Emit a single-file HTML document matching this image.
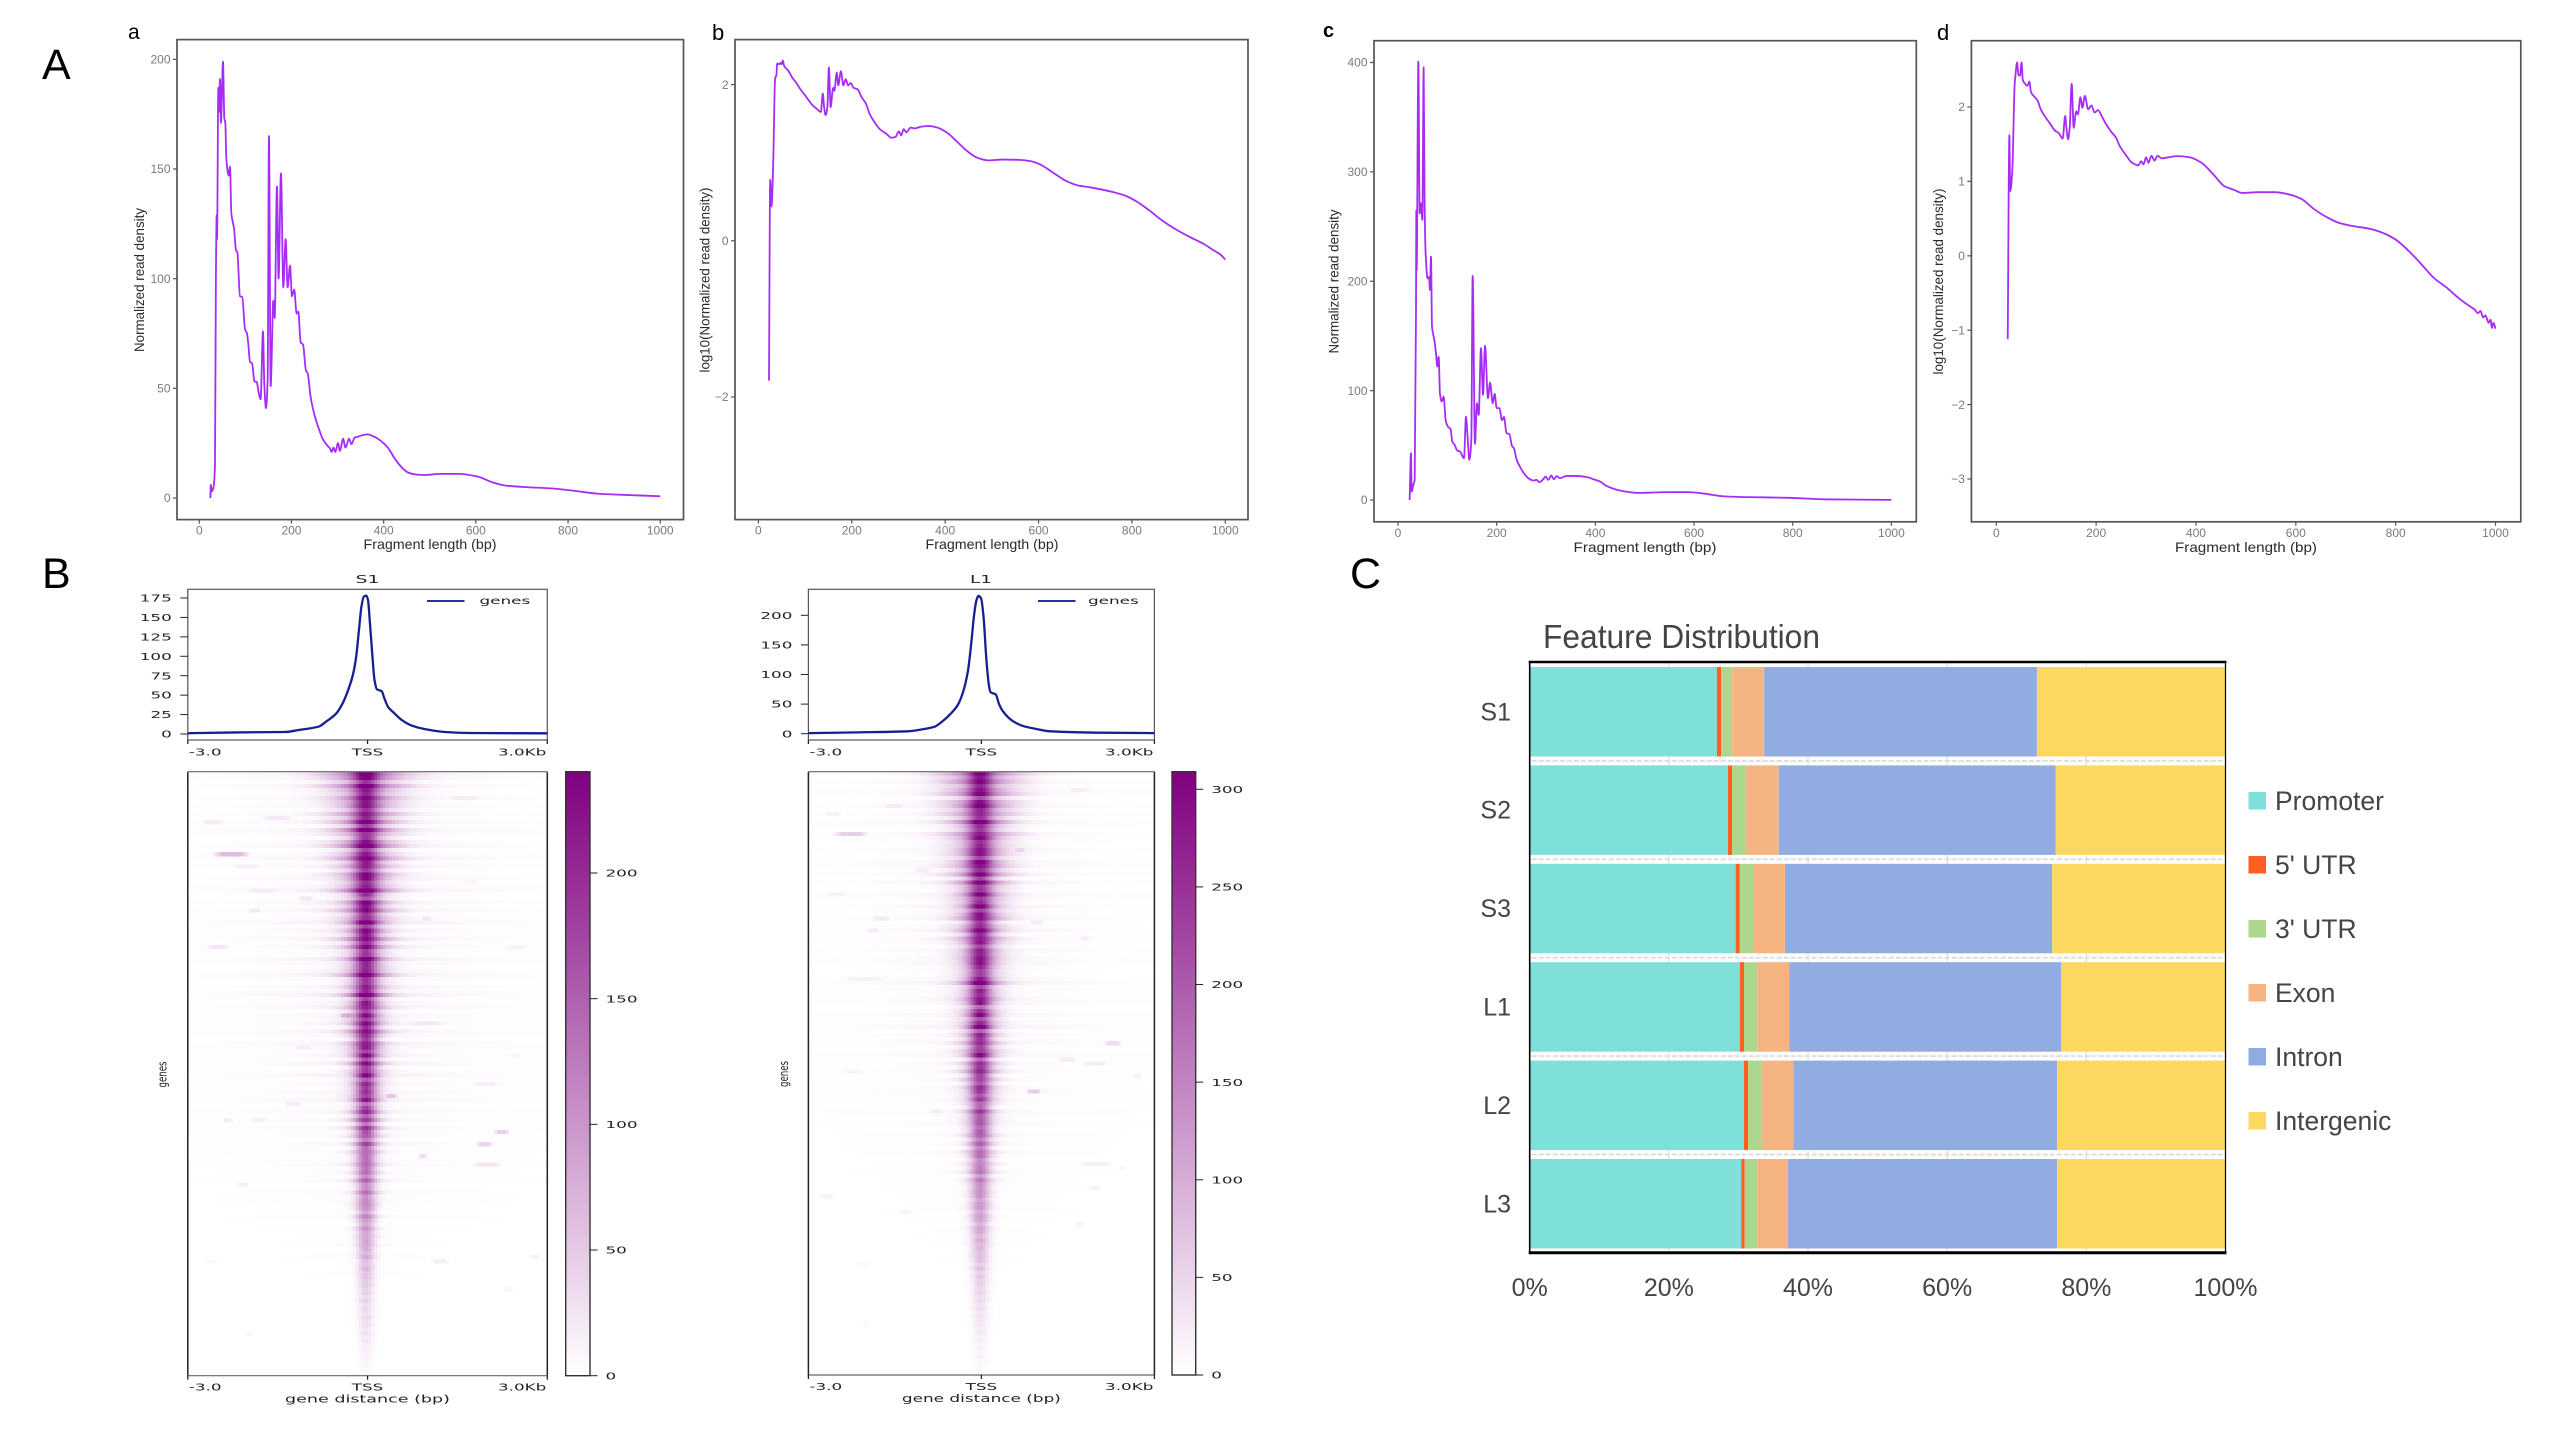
<!DOCTYPE html>
<html lang="en">
<head>
<meta charset="utf-8">
<title>Fragment length, TSS enrichment and feature distribution</title>
<style>
html,body{margin:0;padding:0;background:#fff;width:2560px;height:1440px;overflow:hidden}
svg{display:block}
text{font-family:"Liberation Sans",sans-serif}
.dj{font-family:"DejaVu Sans",sans-serif;fill:#222}
.axt{fill:#2a2a2a;font-size:14px}
.plabel{fill:#000}
.lg{font-size:26.500px;fill:#444}
</style>
</head>
<body>
<svg id="fig" xmlns="http://www.w3.org/2000/svg" width="2560" height="1440" viewBox="0 0 2560 1440">
<defs>
<linearGradient id="cmap" x1="0" y1="1" x2="0" y2="0"><stop offset="0" stop-color="#ffffff"/><stop offset="1" stop-color="#800080"/></linearGradient>
</defs>
<rect x="0" y="0" width="2560" height="1440" fill="#fff"/>

<text class="plabel" x="42" y="79" font-size="43">A</text>
<text class="plabel" x="42" y="588" font-size="43">B</text>
<text class="plabel" x="1350" y="588" font-size="43">C</text>
<text class="plabel" x="128" y="39" font-size="21">a</text>
<text class="plabel" x="712" y="40" font-size="22">b</text>
<text class="plabel" x="1323" y="37" font-size="20" font-weight="bold">c</text>
<text class="plabel" x="1937" y="40" font-size="22">d</text>

<g id="panel-a"></g>
<g id="panel-b"></g>
<g id="panel-c"></g>
<g id="panel-d"></g>

<text class="axt" x="430" y="549" text-anchor="middle" textLength="133" lengthAdjust="spacingAndGlyphs">Fragment length (bp)</text>
<text class="axt" x="992" y="549" text-anchor="middle" textLength="133" lengthAdjust="spacingAndGlyphs">Fragment length (bp)</text>
<text class="axt" x="1645" y="552" text-anchor="middle" textLength="143" lengthAdjust="spacingAndGlyphs">Fragment length (bp)</text>
<text class="axt" x="2246" y="552" text-anchor="middle" textLength="142" lengthAdjust="spacingAndGlyphs">Fragment length (bp)</text>
<text class="axt" transform="translate(144,280) rotate(-90)" text-anchor="middle" textLength="144" lengthAdjust="spacingAndGlyphs">Normalized read density</text>
<text class="axt" transform="translate(709.500,280) rotate(-90)" text-anchor="middle" textLength="185" lengthAdjust="spacingAndGlyphs">log10(Normalized read density)</text>
<text class="axt" transform="translate(1338.500,281.500) rotate(-90)" text-anchor="middle" textLength="144" lengthAdjust="spacingAndGlyphs">Normalized read density</text>
<text class="axt" transform="translate(1943,281.500) rotate(-90)" text-anchor="middle" textLength="186" lengthAdjust="spacingAndGlyphs">log10(Normalized read density)</text>

<g id="heat-s1"></g>
<g id="heat-l1"></g>
<text class="dj" x="367.500" y="583" font-size="11" text-anchor="middle" textLength="24" lengthAdjust="spacingAndGlyphs">S1</text>
<text class="dj" x="981" y="583" font-size="11" text-anchor="middle" textLength="22" lengthAdjust="spacingAndGlyphs">L1</text>
<text class="dj" x="367.500" y="1402.500" font-size="11" text-anchor="middle" textLength="165" lengthAdjust="spacingAndGlyphs">gene distance (bp)</text>
<text class="dj" x="981.400" y="1402" font-size="11" text-anchor="middle" textLength="159" lengthAdjust="spacingAndGlyphs">gene distance (bp)</text>
<text class="dj" transform="translate(166.500,1074.500) rotate(-90)" font-size="12" text-anchor="middle" textLength="26" lengthAdjust="spacingAndGlyphs">genes</text>
<text class="dj" transform="translate(788,1074) rotate(-90)" font-size="12" text-anchor="middle" textLength="26" lengthAdjust="spacingAndGlyphs">genes</text>

<text x="1543" y="648" font-size="33" fill="#444" textLength="277" lengthAdjust="spacingAndGlyphs">Feature Distribution</text>
<g id="bars"></g>

<g>
<rect x="2248.500" y="792" width="17.500" height="17.500" fill="#7FDFD9"/>
<text class="lg" x="2275" y="810">Promoter</text>
<rect x="2248.500" y="856" width="17.500" height="17.500" fill="#FF5F22"/>
<text class="lg" x="2275" y="874">5' UTR</text>
<rect x="2248.500" y="920" width="17.500" height="17.500" fill="#ADD68F"/>
<text class="lg" x="2275" y="938">3' UTR</text>
<rect x="2248.500" y="984" width="17.500" height="17.500" fill="#F5B482"/>
<text class="lg" x="2275" y="1002">Exon</text>
<rect x="2248.500" y="1048" width="17.500" height="17.500" fill="#91ACE0"/>
<text class="lg" x="2275" y="1066">Intron</text>
<rect x="2248.500" y="1112" width="17.500" height="17.500" fill="#FDD860"/>
<text class="lg" x="2275" y="1130">Intergenic</text>
</g>
</svg>

<script>
// ---------- Fragment-length data ----------
const fragmentXTicks = [0, 200, 400, 600, 800, 1000];
const aYTicks = [0, 50, 100, 150, 200];
const bYTicks = [-2, 0, 2];
const cYTicks = [0, 100, 200, 300, 400];
const dYTicks = [-3, -2, -1, 0, 1, 2];

const aLengths = [24,25,27,31,34,36,37.7,38.5,41.3,42.7,
44.9,47,51.4,54.3,56.5,58.6,63.7,66.6,69.5,72.4,
75.3,79.6,82.5,88.3,93.3,99.1,103.5,106.4,110,114.3,
120,124.4,128.8,133,138.2,141,144.7,148.3,151.2,154.8,
160.6,163.5,168.5,172,177.2,182.3,187.3,191.7,196.8,201,
206,211.2,214.8,219.9,225,231.5,235,241.6,251,260.4,
267.6,279,283,287,291,295,301,305,312,317,
325,330,337,345,355,365,379,394,409,424,
439,454,470,489,524,564,603,638,663,713,
763,813,863,912,1000];
const aDensity = [0,6,3,5,15,100,129,118,187,176,
191,171,199,173,171,155,147,151,130,126,
123,113,112,92,91.6,77,75,70,62,61.5,
53,53,48,45,76,52,41,54,165,51,
90,82,142,100,148,96,118,96,106,92,
95,84,85,71,70,58,57,46,37,31,
27,23.6,22.8,21,23,21,25,21.5,27,23,
27,24.5,27.5,28,28.7,29,28,26,23,18,
14,11.5,10.7,10.5,11,11,9.8,7,5.7,4.9,
4.4,3.3,2,1.5,0.8];

const bLengths = [22.7,25.3,28,31.5,35.8,38.5,40.2,44.6,47.2,49.8,
52.4,55,63.8,72.6,81.3,90,99,107.5,116,125,
133.7,138,140.7,144,147.7,151,154.7,160,162.6,167.8,
171,176.6,182,187,192,197.6,203.7,212.4,221,230,
238.6,247.4,260,274,285,293.7,300.7,306,311,317,
326,334.8,348,365,383,405,427,449,470.3,492,
522.7,557.7,584,605.8,632,658,684,715,758.7,785,
811,837,863.6,894,924.8,955.4,973,990.4,1000];
const bDensity = [-1.79,0.78,0.44,0.94,2.08,2.12,2.27,2.26,2.28,2.26,
2.31,2.24,2.18,2.09,2.02,1.94,1.87,1.80,1.735,1.69,
1.65,1.885,1.71,1.61,1.71,2.22,1.71,1.96,1.92,2.155,
1.99,2.17,1.99,2.07,1.99,2.02,1.96,1.94,1.84,1.76,
1.62,1.53,1.43,1.37,1.32,1.33,1.40,1.35,1.43,1.39,
1.45,1.44,1.46,1.47,1.45,1.38,1.26,1.14,1.06,1.03,
1.04,1.036,1.018,0.97,0.87,0.77,0.71,0.68,0.625,0.58,
0.50,0.39,0.265,0.146,0.046,-0.046,-0.114,-0.18,-0.24];

const cLengths = [23.6,26.3,27.7,31,33.8,36.5,37.1,37.8,41.2,43.9,
46.6,49.3,52,54,56,60,62.8,64.8,66.9,68.9,
73.6,77,79.7,82.4,85,88.5,92.5,96.6,101.3,106.7,
110,114.8,120,125.6,133.7,137.8,141,144.6,148.6,151.3,
156,160,163.5,168.2,172.3,176.3,182.4,186.5,191.9,196,
200,205.4,210.8,214.8,220,225.6,231,235,240.5,247,
255,264,274,281,286.4,294.5,299,304.7,310.7,316,
321.6,328,342,362,382,396,409.4,421.8,455,488,
546,587,620,662,711,794,860,1000];
const cDensity = [0,42.8,7.7,13.8,18.4,177,265,210,400.8,262,
271.3,256,395.6,268,225.6,202.7,204,192,222.5,158.6,
146.4,134,122,131,97.6,90,94.6,73,67,64.7,
53.4,50.4,45.2,44.3,38.2,76.3,58,36.7,55,204.9,
51.3,88.5,77.8,138.8,96,141,93,107.4,88.5,97,
84,84,73,76,61,60.4,49.5,47.3,36.7,30.6,
24.5,20,17.8,18.4,16.3,19,21.4,18.4,22.4,19,
21.8,20,22,22,21,19,17,13,8.2,6.5,
7.2,7.2,5.9,3.3,2.6,2,0.65,0.1];

const dLengths = [22.9,26.2,27.8,31.9,36.8,38.4,41.7,44.2,47.4,50.7,
53.1,58,62,66.2,69.5,76,82.6,89,94.8,102,
110.4,117,125,133,138,140.6,144,147,151,155,
160,163.5,168.4,172.5,177.4,184,190.5,197,203.6,211,
219,231,239.6,247.8,260,272,284.5,290,295,300,
305,310.7,317,323,331,346,362,387,411,436,
456,476.7,493,526,558.5,583,611.6,636,664.7,689,
713.8,746.5,771,799.7,828,853,877,902,926.4,951,
958,965,970,975,980,986,990,993,996,1000];
const dDensity = [-1.12,1.62,0.87,1.13,2.31,2.43,2.6,2.43,2.42,2.6,
2.36,2.31,2.285,2.34,2.2,2.14,2.09,1.97,1.9,1.83,
1.75,1.685,1.65,1.575,1.88,1.71,1.565,1.72,2.31,1.72,
1.94,1.9,2.13,1.99,2.15,1.97,2.02,1.925,1.96,1.88,
1.78,1.66,1.59,1.47,1.35,1.25,1.215,1.27,1.23,1.325,
1.25,1.345,1.28,1.345,1.31,1.325,1.34,1.325,1.25,1.085,
0.94,0.885,0.845,0.855,0.855,0.83,0.763,0.63,0.51,0.437,
0.40,0.365,0.317,0.22,0.053,-0.125,-0.30,-0.427,-0.57,-0.69,
-0.72,-0.77,-0.74,-0.83,-0.8,-0.9,-0.86,-0.97,-0.9,-0.98];

// ---------- TSS profile and heatmap data ----------
const profileXLabels = ['-3.0', 'TSS', '3.0Kb'];
const s1ProfileTicks = [0, 25, 50, 75, 100, 125, 150, 175];
const l1ProfileTicks = [0, 50, 100, 150, 200];
const s1ColorTicks = [0, 50, 100, 150, 200];
const l1ColorTicks = [0, 50, 100, 150, 200, 250, 300];

const s1Kb = [-3,-2.19,-1.37,-1.16,-0.82,-0.69,-0.52,-0.416,-0.313,-0.245,-0.19,-0.143,-0.102,-0.06,-0.02,0.007,0.04,0.082,0.116,0.157,0.238,0.28,0.347,0.436,0.572,0.743,0.947,1.29,1.7,3];
const s1Signal = [1,2,2.6,5,9.4,16,26.6,39.5,58.8,76,99.5,134,164,177,178,172.5,142.5,99.5,69.5,57.5,55,46,34.3,27.5,18,10.7,6.4,2.6,1.3,0.9];
const l1Kb = [-3,-2.14,-1.276,-1.03,-0.81,-0.687,-0.53,-0.41,-0.316,-0.235,-0.173,-0.13,-0.087,-0.05,-0.006,0.037,0.087,0.13,0.16,0.248,0.303,0.365,0.52,0.706,0.95,1.2,2,3];
const l1Signal = [1,2.3,4,7.3,11.8,20,34,48.5,71,105,155.5,197.7,225,232.7,228.7,197.7,124.5,82,70,66.5,51,39,23,13.5,8,4,1.7,1];

const s1RowPeak = [228,235,210,238,222,240,205,232,218,236,196,228,240,214,226,190,234,221,240,208,
230,216,238,199,225,240,212,231,204,236,222,193,229,238,211,224,200,235,217,227,
240,206,230,219,195,233,225,210,238,202,228,215,236,198,222,231,207,226,188,220,
229,203,218,232,196,214,226,190,221,208,230,186,212,224,198,216,181,209,225,192,
198,208,170,190,200,172,190,158,180,186,
165,150,174,158,142,168,150,134,160,144,128,150,134,120,144,126,112,132,118,104,126,110,98,114,102,
92,108,86,98,78,90,74,64,82,60,70,54,62,50,56,42,52,38,44,34,
44,34,38,28,33,24,28,20,22,16,18,12,12,8,5];
const s1RowSpread = [66,62,58,64,55,60,52,57,50,54,58,48,52,46,50,55,44,49,53,42,
47,51,40,46,44,50,38,45,42,48,37,44,41,36,46,39,43,35,42,38,
34,44,37,40,33,41,36,32,39,35,43,31,37,34,30,38,33,29,36,32,
28,35,31,27,34,30,26,33,29,37,28,25,32,27,30,24,31,26,29,23,
30,25,28,22,27,24,29,23,26,21,
28,22,25,20,27,23,21,26,20,24,19,25,21,18,23,20,18,22,19,17,21,18,16,20,17,
19,16,18,15,17,16,14,17,15,16,14,15,13,14,13,15,12,14,12,13,
12,13,11,12,11,12,10,11,10,11,10,10,9,9,8];
const s1RowWash = [9,7,3,8,5,2,9,4,6,1,8,3,7,2,9,5,1,6,8,2,
4,9,3,7,1,5,8,2,6,9,3,1,7,4,8,2,5,9,1,6,
3,8,2,7,4,1,9,5,2,6,8,3,1,7,4,9,2,5,8,1,
6,3,7,2,9,4,1,8,5,2,6,3,7,1,4,8,2,5,1,6,
3,7,1,4,6,2,5,1,7,3,
4,1,6,2,5,1,3,6,1,4,2,5,1,3,4,1,5,2,3,1,4,2,1,3,1,
3,1,4,1,2,3,1,2,1,3,1,2,1,2,1,1,2,1,1,2,
1,1,2,1,1,1,1,1,0,1,0,1,0,0,0];
const s1StreakRows = [20,12,23,11,29,31,34,43,36,6,27,43,60,80,86,86,82,89,92,95,97,102,77,62,121,120,139,128,121,68,70];
const s1StreakStart = [-2.6,-2.77,-2.25,-1.78,-2.05,-1.16,-2,-2.7,0.88,1.35,1.56,2.3,-0.48,0.3,-2.42,-1.95,-1.4,2.1,1.8,0.85,1.73,-2.19,1.73,0.7,1.05,2.7,-2.08,2.27,-2.76,-1.2,2.34];
const s1StreakEnd = [-1.95,-2.4,-1.78,-1.23,-1.5,-0.9,-1.78,-2.3,1.08,1.9,1.83,2.7,-0.25,0.5,-2.25,-1.68,-1.1,2.38,2.1,1,2.24,-1.98,2.2,1.3,1.35,2.89,-1.9,2.45,-2.5,-0.93,2.6];
const s1StreakValue = [60,16,14,18,14,22,18,20,18,12,10,10,40,40,16,14,16,42,36,30,22,14,14,14,16,14,7,8,6,14,7];

const l1RowPeak = [290,305,268,309,280,298,262,301,275,292,248,288,306,270,295,244,300,278,308,260,
296,272,304,252,285,309,266,293,256,302,279,240,290,307,264,284,250,299,274,288,
306,258,292,270,238,297,283,262,305,246,286,268,300,242,276,294,255,280,230,272,
288,250,268,290,238,262,278,232,270,254,284,226,258,274,240,262,220,254,276,232,
236,252,204,228,242,208,230,192,218,226,
198,180,208,188,170,200,178,158,190,170,152,178,158,140,168,148,130,154,136,120,146,126,112,130,118,
104,122,96,110,88,102,84,72,92,68,80,62,70,56,64,48,58,44,50,38,
46,36,40,30,34,25,28,20,22,16,18,12,12,8,5];
const l1RowSpread = [70,64,60,66,58,62,55,60,52,57,61,50,54,48,53,58,46,51,56,44,
49,54,42,48,46,52,40,47,44,50,39,46,43,38,48,41,45,37,44,40,
36,46,39,42,35,43,38,34,41,37,45,33,39,36,32,40,35,31,38,34,
30,37,33,29,36,32,28,35,31,39,30,27,34,29,32,26,33,28,31,25,
32,27,30,24,29,26,31,25,28,23,
30,24,27,22,29,25,23,28,22,26,21,27,23,20,25,22,20,24,21,19,23,20,18,22,19,
21,18,20,17,19,18,16,19,17,18,16,17,15,16,15,17,14,16,14,15,
14,15,13,14,13,14,12,13,12,13,12,12,11,11,10];
const l1RowWash = [8,4,9,2,6,7,1,5,9,3,7,2,8,4,1,9,6,3,2,8,
5,1,7,9,3,6,2,8,4,1,9,5,3,7,2,6,9,1,4,8,
2,7,5,1,9,3,6,8,2,4,1,7,9,3,5,2,8,6,1,4,
7,2,5,9,1,6,3,8,2,4,7,1,5,3,8,2,6,1,4,7,
2,5,3,1,6,4,2,7,1,3,
5,2,4,1,6,3,1,4,2,5,1,3,2,4,1,3,2,1,4,2,1,3,1,2,3,
1,2,3,1,2,1,3,1,2,1,1,3,1,2,1,2,1,1,2,1,
1,2,1,1,1,1,1,0,1,1,0,1,0,0,0];
const l1StreakRows = [15,10,8,24,30,36,39,51,4,19,37,41,67,71,72,75,79,74,84,97,98,103,105,109,112,122,137];
const l1StreakStart = [-2.58,-2.73,-1.7,-1.18,-2.7,-1.9,-1.99,-2.42,1.5,0.58,0.83,1.7,2.11,1.33,1.72,2.62,0.77,-2.4,-0.91,1.7,2.38,1.84,-2.86,-1.45,1.6,-2.17,-2.08];
const l1StreakEnd = [-1.96,-2.42,-1.34,-0.87,-2.33,-1.58,-1.77,-1.65,1.9,0.77,1.08,1.88,2.44,1.66,2.2,2.8,1.04,-2.05,-0.67,2.26,2.5,2.08,-2.53,-1.15,1.81,-1.93,-1.93];
const l1StreakValue = [55,14,18,18,14,18,20,14,18,30,26,20,42,26,20,18,55,14,18,20,14,14,14,12,14,10,8];

// ---------- Stacked bar data (percent of reads) ----------
const barSamples = ['S1', 'S2', 'S3', 'L1', 'L2', 'L3'];
const promoterPct = [26.9, 28.5, 29.6, 30.2, 30.8, 30.4];
const utr5Pct = [0.6, 0.6, 0.6, 0.6, 0.6, 0.5];
const utr3Pct = [1.6, 2.0, 1.9, 1.9, 2.0, 1.8];
const exonPct = [4.6, 4.7, 4.6, 4.6, 4.5, 4.4];
const intronPct = [39.2, 39.8, 38.4, 39.1, 37.9, 38.7];
const intergenicPct = [27.1, 24.4, 24.9, 23.6, 24.2, 24.2];
const barXTicks = [0, 20, 40, 60, 80, 100];

const NS = 'http://www.w3.org/2000/svg';
function make(tag, attrs, parent) {
  const el = document.createElementNS(NS, tag);
  for (const k in attrs) el.setAttribute(k, attrs[k]);
  parent.appendChild(el);
  return el;
}
function linearScale(v0, p0, v1, p1) {
  return function (v) { return p0 + (v - v0) * (p1 - p0) / (v1 - v0); };
}
// Monotone cubic through the given points: rounds long segments, keeps peaks exact.
function monotonePath(xsPx, ysPx) {
  const n = xsPx.length;
  const d = [];
  for (let i = 0; i < n - 1; i++) d.push((ysPx[i + 1] - ysPx[i]) / (xsPx[i + 1] - xsPx[i]));
  const m = [d[0]];
  for (let i = 1; i < n - 1; i++) m.push(d[i - 1] * d[i] <= 0 ? 0 : 2 * d[i - 1] * d[i] / (d[i - 1] + d[i]));
  m.push(d[n - 2]);
  let out = 'M' + xsPx[0].toFixed(2) + ' ' + ysPx[0].toFixed(2);
  for (let i = 0; i < n - 1; i++) {
    const h = (xsPx[i + 1] - xsPx[i]) / 3;
    out += 'C' + (xsPx[i] + h).toFixed(2) + ' ' + (ysPx[i] + m[i] * h).toFixed(2) + ' ' +
      (xsPx[i + 1] - h).toFixed(2) + ' ' + (ysPx[i + 1] - m[i + 1] * h).toFixed(2) + ' ' +
      xsPx[i + 1].toFixed(2) + ' ' + ysPx[i + 1].toFixed(2);
  }
  return out;
}

// ---------- Fragment panels ----------
function drawFragmentPanel(id, lengths, density, yTicks, g) {
  const root = document.getElementById(id);
  const xs = linearScale(0, g.x0, 1000, g.x1);
  const ys = linearScale(g.vA, g.pA, g.vB, g.pB);
  const line = make('path', {
    d: monotonePath(lengths.map(xs), density.map(ys)),
    fill: 'none', stroke: '#A62CF4', 'stroke-width': 1.8, 'stroke-linejoin': 'round'
  }, root);
  
  
  const frame = make('rect', {
    x: g.left, y: g.top, width: g.right - g.left, height: g.bottom - g.top,
    fill: 'none', stroke: '#555', 'stroke-width': 1.7
  }, root);
  
  
  fragmentXTicks.forEach(function (t) {
    const tick = make('line', { x1: xs(t), x2: xs(t), y1: g.bottom, y2: g.bottom + 4, stroke: '#555', 'stroke-width': 1.2 }, root);
    
    
    const lab = make('text', { x: xs(t), y: g.bottom + 15, 'text-anchor': 'middle', 'font-size': 12, fill: '#7a7a7a' }, root);
    lab.textContent = t;
    
    
  });
  yTicks.forEach(function (t) {
    const tick = make('line', { x1: g.left - 4, x2: g.left, y1: ys(t), y2: ys(t), stroke: '#555', 'stroke-width': 1.2 }, root);
    
    
    const lab = make('text', { x: g.left - 6.5, y: ys(t) + 4.2, 'text-anchor': 'end', 'font-size': 12, fill: '#7a7a7a' }, root);
    lab.textContent = String(t).replace('-', '\u2212');
    
    
  });
}
drawFragmentPanel('panel-a', aLengths, aDensity, aYTicks, { left: 177, right: 683.5, top: 39.6, bottom: 519.6, x0: 199.3, x1: 660.2, vA: 0, pA: 498, vB: 200, pB: 59.3 });
drawFragmentPanel('panel-b', bLengths, bDensity, bYTicks, { left: 735, right: 1248, top: 39.6, bottom: 519.6, x0: 758.4, x1: 1225.3, vA: -2, pA: 397, vB: 2, pB: 84.6 });
drawFragmentPanel('panel-c', cLengths, cDensity, cYTicks, { left: 1374, right: 1916.3, top: 40.7, bottom: 521.8, x0: 1398, x1: 1891.4, vA: 0, pA: 500, vB: 400, pB: 62.5 });
drawFragmentPanel('panel-d', dLengths, dDensity, dYTicks, { left: 1971.4, right: 2520.8, top: 40.7, bottom: 521.8, x0: 1996.3, x1: 2495.5, vA: -3, pA: 479, vB: 2, pB: 107 });

// ---------- TSS profile + heatmap ----------
function stretchedText(str, x, y, anchor, parent) {
  const el = make('text', { class: 'dj', 'font-size': 10, 'text-anchor': anchor, transform: 'translate(' + x + ',' + y + ') scale(1.68,1)' }, parent);
  el.textContent = str;
  return el;
}
function drawTss(id, kb, signal, profileTicks, colorTicks, rowPeak, rowSpread, rowWash, stRows, stStart, stEnd, stValue, g) {
  const root = document.getElementById(id);
  const xs = linearScale(-3, g.left, 3, g.right);
  const py = linearScale(0, g.p0, g.pvRef, g.ppRef);
  const cy = linearScale(0, g.heatBottom, g.cvRef, g.cpRef);
  const vmax = (g.heatBottom - g.heatTop) * g.cvRef / (g.heatBottom - g.cpRef);

  const rows = rowPeak.length;
  const rowH = (g.heatBottom - g.heatTop) / rows;
  const colW = 3;
  const cols = Math.ceil((g.right - g.left) / colW);
  const cells = make('g', { 'shape-rendering': 'crispEdges' }, root);
  
  
  for (let r = 0; r < rows; r++) {
    const sp = rowSpread[r] / 100;
    const coreW = Math.min(0.2, 0.1 + sp * 0.2);
    const haloAmp = 0.2 + 0.035 * rowWash[r];
    for (let c = 0; c < cols; c++) {
      const px = g.left + c * colW;
      const k = (px + colW / 2 - g.left) / (g.right - g.left) * 6 - 3;
      const d = k - g.shift;
      let v = rowPeak[r] * (0.58 * Math.exp(-(d * d) / (coreW * coreW)) + haloAmp * Math.exp(-(d * d) / (sp * sp)));
      v += 2.2 * rowWash[r] * (rowPeak[r] / vmax) / (1 + d * d / 1.5);
      for (let s = 0; s < stRows.length; s++) {
        if (stRows[s] === r && k >= stStart[s] && k <= stEnd[s]) {
          const edge = Math.min(k - stStart[s], stEnd[s] - k) / ((stEnd[s] - stStart[s]) * 0.25);
          v += stValue[s] * Math.min(1, edge);
        }
      }
      const f = Math.min(1, v / vmax);
      if (f < 0.004) continue;
      const R = Math.round(255 - f * 127), G = Math.round(255 - f * 255), B = Math.round(255 - f * 127);
      const cell = make('rect', {
        x: px.toFixed(2), y: (g.heatTop + r * rowH).toFixed(2), width: colW + 0.3, height: (rowH + 0.3).toFixed(2),
        fill: 'rgb(' + R + ',' + G + ',' + B + ')'
      }, cells);
      
      
    }
  }

  const hLeft = make('line', { x1: g.left, x2: g.left, y1: g.heatTop, y2: g.heatBottom, stroke: '#222', 'stroke-width': 1.5 }, root);
  
  
  const hRight = make('line', { x1: g.right, x2: g.right, y1: g.heatTop, y2: g.heatBottom, stroke: '#222', 'stroke-width': 1.5 }, root);
  
  
  const hTop = make('line', { x1: g.left, x2: g.right, y1: g.heatTop, y2: g.heatTop, stroke: '#666', 'stroke-width': 1.2 }, root);
  
  
  const hBottom = make('line', { x1: g.left, x2: g.right, y1: g.heatBottom, y2: g.heatBottom, stroke: '#666', 'stroke-width': 1.2 }, root);
  
  

  const pFrame = make('rect', { x: g.left, y: g.pTop, width: g.right - g.left, height: g.pBottom - g.pTop, fill: 'none', stroke: '#555', 'stroke-width': 1.2 }, root);
  
  
  const prof = make('path', {
    d: monotonePath(kb.map(xs), signal.map(py)),
    fill: 'none', stroke: '#18208F', 'stroke-width': 2.3, 'stroke-linejoin': 'round'
  }, root);
  
  
  const legLine = make('line', { x1: g.legX, x2: g.legX + g.legLen, y1: 601, y2: 601, stroke: '#2A2F9E', 'stroke-width': 2 }, root);
  
  
  const legText = stretchedText('genes', g.legTextX, 604, 'start', root);
  
  

  profileTicks.forEach(function (t) {
    const tick = make('line', { x1: g.left - 7.5, x2: g.left, y1: py(t), y2: py(t), stroke: '#222', 'stroke-width': 1 }, root);
    
    
    const lab = stretchedText(t, g.left - 16, py(t) + 3.6, 'end', root);
    
    
  });

  [-3, 0, 3].forEach(function (t, i) {
    const anchor = i === 0 ? 'start' : (i === 1 ? 'middle' : 'end');
    const lx = i === 0 ? xs(t) + 1 : (i === 2 ? xs(t) - 1 : xs(t));
    const t1 = make('line', { x1: xs(t), x2: xs(t), y1: g.pBottom, y2: g.pBottom + 4, stroke: '#222', 'stroke-width': 1.3 }, root);
    
    
    const l1 = stretchedText(profileXLabels[i], lx, g.pBottom + 15.5, anchor, root);
    
    
    const t2 = make('line', { x1: xs(t), x2: xs(t), y1: g.heatBottom, y2: g.heatBottom + 4, stroke: '#222', 'stroke-width': 1.3 }, root);
    
    
    const l2 = stretchedText(profileXLabels[i], lx, g.heatBottom + 15, anchor, root);
    
    
  });

  const bar = make('rect', { x: g.cbLeft, y: g.heatTop, width: g.cbRight - g.cbLeft, height: g.heatBottom - g.heatTop, fill: 'url(#cmap)', stroke: '#333', 'stroke-width': 1.4 }, root);
  
  
  colorTicks.forEach(function (t) {
    const tick = make('line', { x1: g.cbRight, x2: g.cbRight + 7.5, y1: cy(t), y2: cy(t), stroke: '#222', 'stroke-width': 1 }, root);
    
    
    const lab = stretchedText(t, g.cbRight + 15.5, cy(t) + 3.6, 'start', root);
    
    
  });
}
drawTss('heat-s1', s1Kb, s1Signal, s1ProfileTicks, s1ColorTicks, s1RowPeak, s1RowSpread, s1RowWash, s1StreakRows, s1StreakStart, s1StreakEnd, s1StreakValue, {
  left: 187.8, right: 547.3, pTop: 589.3, pBottom: 740, p0: 734, pvRef: 175, ppRef: 598,
  heatTop: 771.7, heatBottom: 1375.7, cvRef: 200, cpRef: 873, shift: -0.03,
  cbLeft: 565.7, cbRight: 590, legX: 427, legLen: 37.5, legTextX: 479.5
});
drawTss('heat-l1', l1Kb, l1Signal, l1ProfileTicks, l1ColorTicks, l1RowPeak, l1RowSpread, l1RowWash, l1StreakRows, l1StreakStart, l1StreakEnd, l1StreakValue, {
  left: 808.4, right: 1154.4, pTop: 589.3, pBottom: 740, p0: 733.7, pvRef: 200, ppRef: 615.3,
  heatTop: 771.7, heatBottom: 1375, cvRef: 300, cpRef: 789.3, shift: -0.025,
  cbLeft: 1172, cbRight: 1195.7, legX: 1038, legLen: 37.5, legTextX: 1088
});

// ---------- Stacked bars ----------
(function drawBars() {
  const root = document.getElementById('bars');
  const left = 1529.7, right = 2225.5, top = 662, bottom = 1252.7;
  const xs = linearScale(0, left, 100, right);
  const barTop = function (i) { return 667 + i * 98.4; };
  const barH = 89.5;
  const series = [
    { name: 'promoter', values: promoterPct, color: '#7FDFD9' },
    { name: '5utr', values: utr5Pct, color: '#FF5F22' },
    { name: '3utr', values: utr3Pct, color: '#ADD68F' },
    { name: 'exon', values: exonPct, color: '#F5B482' },
    { name: 'intron', values: intronPct, color: '#91ACE0' },
    { name: 'intergenic', values: intergenicPct, color: '#FDD860' }
  ];
  barXTicks.forEach(function (t) {
    const grid = make('line', { x1: xs(t), x2: xs(t), y1: top, y2: bottom, stroke: '#ddd', 'stroke-width': 1.2 }, root);
    
    
    const lab = make('text', { x: xs(t), y: 1296, 'text-anchor': 'middle', 'font-size': 25, fill: '#444' }, root);
    lab.textContent = t + '%';
    
    
  });
  barSamples.forEach(function (s, i) {
    if (i > 0) {
      const dash = make('line', { x1: left + 2, x2: right, y1: barTop(i) - 4.5, y2: barTop(i) - 4.5, stroke: '#ddd', 'stroke-width': 2, 'stroke-dasharray': '5 2' }, root);
      
      
    }
    let acc = 0;
    series.forEach(function (ser) {
      const v = ser.values[i];
      const seg = make('rect', { x: xs(acc).toFixed(2), y: barTop(i).toFixed(2), width: (xs(acc + v) - xs(acc)).toFixed(2), height: barH, fill: ser.color }, root);
      
      
      acc += v;
    });
    const lab = make('text', { x: 1511, y: barTop(i) + barH / 2 + 8.5, 'text-anchor': 'end', 'font-size': 25, fill: '#444' }, root);
    lab.textContent = s;
    
    
  });
  const spineTop = make('line', { x1: left - 1, x2: right + 1, y1: top, y2: top, stroke: '#000', 'stroke-width': 2.4 }, root);
  
  
  const spineBottom = make('line', { x1: left - 1, x2: right + 1, y1: bottom, y2: bottom, stroke: '#000', 'stroke-width': 3 }, root);
  
  
  const spineLeft = make('line', { x1: left, x2: left, y1: top, y2: bottom, stroke: '#000', 'stroke-width': 1.6 }, root);
  
  
  const spineRight = make('line', { x1: right, x2: right, y1: top, y2: bottom, stroke: '#000', 'stroke-width': 1.2 }, root);
  
  
})();
</script>
</body>
</html>
